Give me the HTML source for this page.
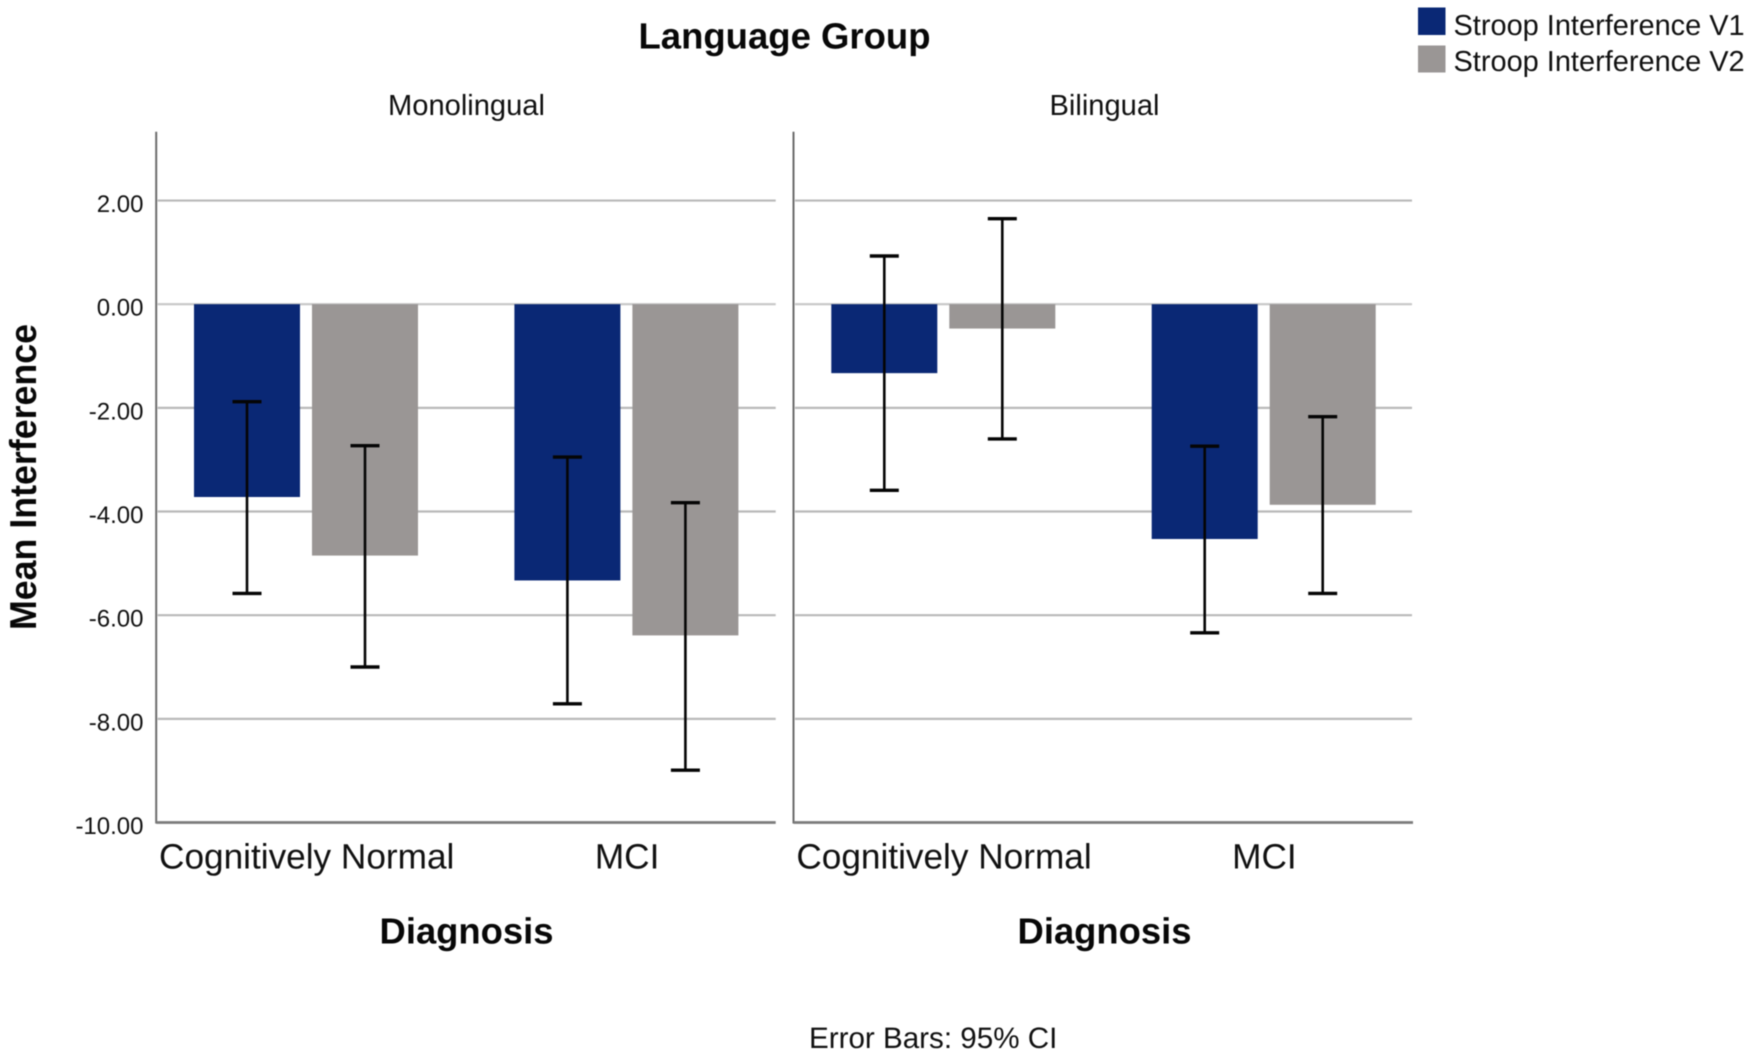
<!DOCTYPE html>
<html lang="en">
<head>
<meta charset="utf-8">
<title>Stroop Interference by Diagnosis and Language Group</title>
<style>
  html, body { margin: 0; padding: 0; background: #fff; }
  body { width: 1750px; height: 1058px; overflow: hidden; }
  svg { display: block; filter: blur(0.45px); }
  text { font-family: "Liberation Sans", sans-serif; fill: #111; text-rendering: geometricPrecision; }
  .bold { font-weight: bold; fill: #080808; }
</style>
</head>
<body>
<svg id="chart" width="1750" height="1058" viewBox="0 0 1750 1058" xmlns="http://www.w3.org/2000/svg">
  <rect x="0" y="0" width="1750" height="1058" fill="#ffffff"/>
  <g id="marks"></g>

  <text class="bold" x="638.5" y="48.5" font-size="36.5">Language Group</text>
  <text x="466.5" y="115" font-size="29.1" text-anchor="middle">Monolingual</text>
  <text x="1104.5" y="115" font-size="29.1" text-anchor="middle">Bilingual</text>

  <text class="bold" font-size="37.5" text-anchor="middle" textLength="306" lengthAdjust="spacingAndGlyphs" transform="translate(36 477) rotate(-90)">Mean Interference</text>
  <text class="bold" x="466.5" y="943.5" font-size="36.4" text-anchor="middle">Diagnosis</text>
  <text class="bold" x="1104.5" y="943.5" font-size="36.4" text-anchor="middle">Diagnosis</text>

  <g>
    <rect x="1418" y="7.5" width="27.5" height="27.5" fill="#0a2875"/>
    <text x="1453.5" y="35" font-size="28.95">Stroop Interference V1</text>
    <rect x="1418" y="45.5" width="27.5" height="27" fill="#9a9695"/>
    <text x="1453.5" y="71.2" font-size="28.95">Stroop Interference V2</text>
  </g>

  <text x="809" y="1048" font-size="29.6">Error Bars: 95% CI</text>
</svg>

<script>
// Data
const categories = ["Cognitively Normal", "MCI"];
const tickLabels = ["2.00", "0.00", "-2.00", "-4.00", "-6.00", "-8.00", "-10.00"];
const tickValues = [2, 0, -2, -4, -6, -8, -10];

const monoV1Means = [-3.72, -5.33];
const monoV1Upper = [-1.88, -2.95];
const monoV1Lower = [-5.58, -7.71];
const monoV2Means = [-4.85, -6.39];
const monoV2Upper = [-2.73, -3.83];
const monoV2Lower = [-7.00, -8.99];

const biV1Means = [-1.33, -4.53];
const biV1Upper = [0.93, -2.74];
const biV1Lower = [-3.59, -6.34];
const biV2Means = [-0.47, -3.87];
const biV2Upper = [1.65, -2.17];
const biV2Lower = [-2.60, -5.58];

// Layout and axis functions
const NS = "http://www.w3.org/2000/svg";
const root = document.getElementById("marks");
const PLOT_TOP = 131.8;
const PANEL_WIDTH = 619.5;
const yOf = v => 304.2 - 51.83 * v;
const groupCenter = (panelLeft, i) => panelLeft + 149.8 + 320.4 * i;
const BAR_WIDTH = 106;
const SERIES_OFFSET = 59;
const CAP_HALF = 14.5;
const V1_COLOR = "#0a2875";
const V2_COLOR = "#9a9695";

function make(parent, tag, attrs) {
  const el = document.createElementNS(NS, tag);
  for (const k in attrs) el.setAttribute(k, attrs[k]);
  parent.appendChild(el);
  return el;
}

function drawSeries(parent, panelName, seriesName, sign, left, means, upper, lower, color) {
  means.forEach((m, i) => {
    const cx = groupCenter(left, i) + sign * SERIES_OFFSET;
    const top = Math.min(yOf(0), yOf(m));
    const h = Math.abs(yOf(m) - yOf(0));
    const bar = make(parent, "rect", { x: cx - BAR_WIDTH / 2, y: top, width: BAR_WIDTH, height: h, fill: color });
    
    
  });
  means.forEach((m, i) => {
    const cx = groupCenter(left, i) + sign * SERIES_OFFSET;
    const g = make(parent, "g", {});
    
    
    make(g, "line", { x1: cx, x2: cx, y1: yOf(upper[i]), y2: yOf(lower[i]), stroke: "#050505", "stroke-width": 2.6 });
    make(g, "line", { x1: cx - CAP_HALF, x2: cx + CAP_HALF, y1: yOf(upper[i]), y2: yOf(upper[i]), stroke: "#050505", "stroke-width": 3.4 });
    make(g, "line", { x1: cx - CAP_HALF, x2: cx + CAP_HALF, y1: yOf(lower[i]), y2: yOf(lower[i]), stroke: "#050505", "stroke-width": 3.4 });
  });
}

function drawPanel(panelName, left, v1, v2) {
  const panel = make(root, "g", {});
  
  

  tickValues.forEach((v, i) => {
    if (v === tickValues[tickValues.length - 1]) return;
    const grid = make(panel, "line", {
      x1: left + 1.5, x2: left + PANEL_WIDTH - (left > 500 ? 1 : 0),
      y1: yOf(v), y2: yOf(v),
      stroke: v === 0 ? "#c6c6c6" : "#b9b9b9", "stroke-width": 2.2
    });
    
    
  });

  const yAxis = make(panel, "line", { x1: left, x2: left, y1: PLOT_TOP, y2: yOf(-10) + 1, stroke: "#6b6b6b", "stroke-width": 2 });
  
  

  const xAxis = make(panel, "line", { x1: left, x2: left + PANEL_WIDTH, y1: yOf(-10), y2: yOf(-10), stroke: "#7b7b7b", "stroke-width": 2.8 });
  
  

  drawSeries(panel, panelName, 'v1', -1, left, v1.means, v1.upper, v1.lower, V1_COLOR);
  drawSeries(panel, panelName, 'v2', 1, left, v2.means, v2.upper, v2.lower, V2_COLOR);

  categories.forEach((c, i) => {
    const label = make(panel, "text", { x: groupCenter(left, i) + 0.7, y: 868.5, "font-size": 35.2, "text-anchor": "middle" });
    label.textContent = c;
    
    
  });
}

tickValues.forEach((v, i) => {
  const t = make(root, "text", { x: 143.5, y: yOf(v) + 11.5, "font-size": 24, "text-anchor": "end" });
  t.textContent = tickLabels[i];
  
  
});

drawPanel('monolingual', 156.2,
  { means: monoV1Means, upper: monoV1Upper, lower: monoV1Lower },
  { means: monoV2Means, upper: monoV2Upper, lower: monoV2Lower });
drawPanel('bilingual', 793.5,
  { means: biV1Means, upper: biV1Upper, lower: biV1Lower },
  { means: biV2Means, upper: biV2Upper, lower: biV2Lower });
</script>
</body>
</html>
